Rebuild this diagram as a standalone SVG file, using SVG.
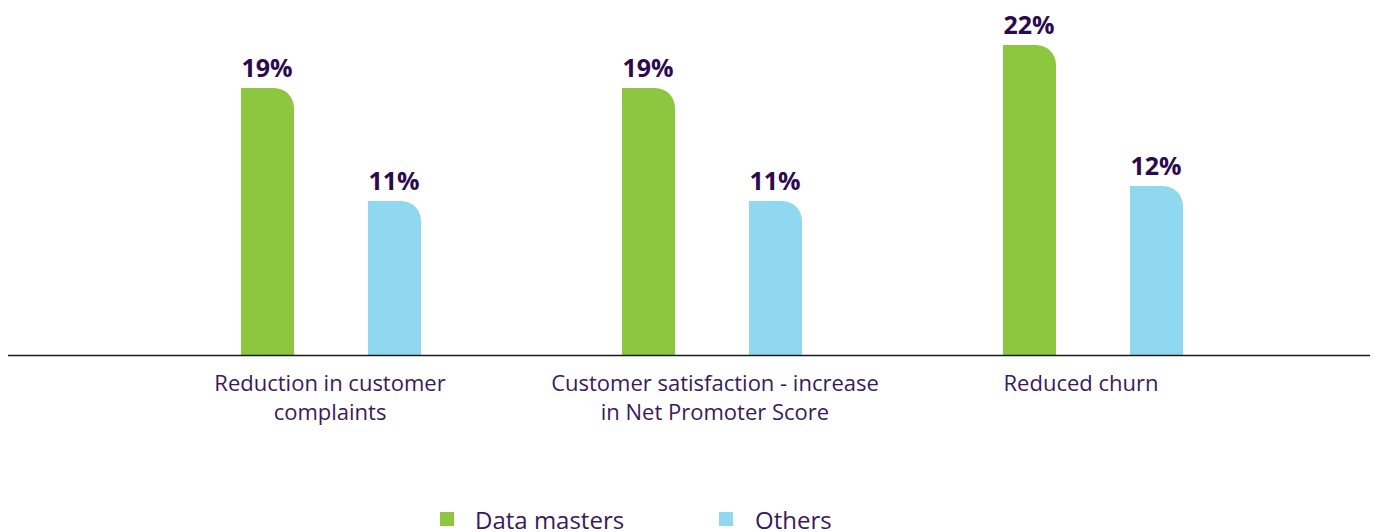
<svg xmlns="http://www.w3.org/2000/svg" width="1375" height="532" viewBox="0 0 1375 532">
<style>
.g{fill:#8dc63f}
.b{fill:#90d8ef}
.v{font-family:"Open Sans","Liberation Sans",sans-serif;font-weight:700;font-size:25px;fill:#2d0a4e;text-anchor:middle}
.c{font-family:"Open Sans","Liberation Sans",sans-serif;font-weight:400;font-size:22px;fill:#3a1a5c;text-anchor:middle}
.l{font-family:"Open Sans","Liberation Sans",sans-serif;font-weight:400;font-size:24px;fill:#3a1a5c}
</style>
<rect width="1375" height="532" fill="#ffffff"/>
<g id="bars">
<g id="g1-dm"><path class="g" d="M241,356 V88 H274 A20,20 0 0 1 294,108 V356 Z"/><text class="v" x="267" y="77">19%</text></g>
<g id="g1-ot"><path class="b" d="M368,356 V201 H401 A20,20 0 0 1 421,221 V356 Z"/><text class="v" x="394" y="190">11%</text></g>
<g id="g2-dm"><path class="g" d="M622,356 V88 H655 A20,20 0 0 1 675,108 V356 Z"/><text class="v" x="648" y="77">19%</text></g>
<g id="g2-ot"><path class="b" d="M749,356 V201 H782 A20,20 0 0 1 802,221 V356 Z"/><text class="v" x="775" y="190">11%</text></g>
<g id="g3-dm"><path class="g" d="M1003,356 V45 H1036 A20,20 0 0 1 1056,65 V356 Z"/><text class="v" x="1029" y="34">22%</text></g>
<g id="g3-ot"><path class="b" d="M1130,356 V186 H1163 A20,20 0 0 1 1183,206 V356 Z"/><text class="v" x="1156" y="175">12%</text></g>
</g>
<g id="axis"><line x1="8" y1="355.5" x2="1370" y2="355.5" stroke="#1a1a1a" stroke-width="1.3"/></g>
<g id="cat1"><text class="c" x="330" y="391">Reduction in customer</text><text class="c" x="330" y="420">complaints</text></g>
<g id="cat2"><text class="c" x="715" y="391">Customer satisfaction - increase</text><text class="c" x="715" y="420">in Net Promoter Score</text></g>
<g id="cat3"><text class="c" x="1081" y="391">Reduced churn</text></g>
<g id="legend">
<rect class="g" x="440" y="512" width="14" height="14"/><text class="l" x="475" y="529">Data masters</text>
<rect class="b" x="719" y="512" width="14" height="14"/><text class="l" x="755" y="529">Others</text>
</g>
</svg>
